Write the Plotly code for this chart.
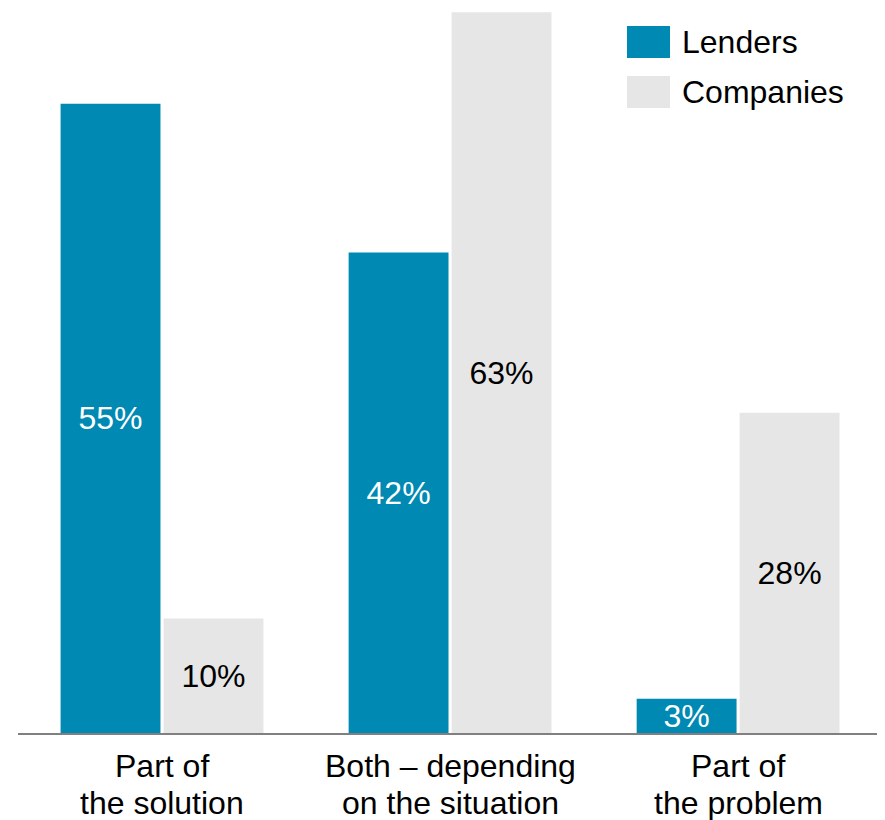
import plotly.graph_objects as go

categories = ["Part of the solution", "Both – depending on the situation", "Part of the problem"]
label_lines = [("Part of", "the solution"), ("Both – depending", "on the situation"), ("Part of", "the problem")]
lenders = [55, 42, 3]
companies = [10, 63, 28]
series_names = ["Lenders", "Companies"]

teal = "#0089B3"
grey = "#E6E6E6"
font = "Liberation Sans, Arial, sans-serif"
fs = 32

fig = go.Figure()
fig.add_trace(go.Bar(
    x=categories, y=lenders, name=series_names[0],
    marker=dict(color=teal, line=dict(width=0)),
    text=[f"{v}%" for v in lenders], textposition="inside",
    insidetextanchor="middle", constraintext="none",
    textfont=dict(color="white", size=fs, family=font),
))
fig.add_trace(go.Bar(
    x=categories, y=companies, name=series_names[1],
    marker=dict(color=grey, line=dict(width=0)),
    text=[f"{v}%" for v in companies], textposition="inside",
    insidetextanchor="middle", constraintext="none",
    textfont=dict(color="black", size=fs, family=font),
))

# page is offset by the 8px body margin; plot area spans x 18..885, y 8..733 on the page
W, H, L, T = 867, 725, 18, 8
def px(x):
    return (x - L) / W
def py(y):
    return 1 - (y - T) / H

# custom legend with large swatches
for i, (name, col) in enumerate(zip(series_names, [teal, grey])):
    top = 26 + i * 50
    fig.add_shape(type="rect", xref="paper", yref="paper",
                  x0=px(627), x1=px(670), y0=py(top), y1=py(top + 32),
                  fillcolor=col, line=dict(width=0))
    fig.add_annotation(xref="paper", yref="paper", x=px(680), y=py(top + 16),
                       text=name, showarrow=False, xanchor="left", yanchor="middle",
                       font=dict(size=fs, color="black", family=font))

# category labels, one annotation per line for tight line spacing
for cat, (l1, l2) in zip(categories, label_lines):
    for j, line in enumerate((l1, l2)):
        fig.add_annotation(x=cat, y=0, xref="x", yref="y", text=line, showarrow=False,
                           xanchor="center", yanchor="middle", yshift=-33 - 37 * j,
                           borderpad=0, font=dict(size=fs, color="black", family=font))

fig.update_layout(
    width=877, height=812,
    margin=dict(l=10, r=0, t=0, b=87),
    barmode="group", bargap=0.285, bargroupgap=0.03,
    plot_bgcolor="white", paper_bgcolor="white",
    showlegend=False,
    font=dict(family=font, size=fs, color="black"),
    xaxis=dict(range=[-0.5, 2.51], showline=True, linecolor="#808080", linewidth=2,
               ticks="", showticklabels=False, showgrid=False),
    yaxis=dict(range=[0, 63.37], visible=False, showgrid=False),
)

fig.write_html("out.html")
